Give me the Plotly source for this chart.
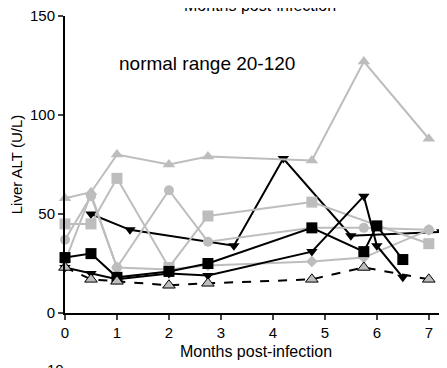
import plotly.graph_objects as go

# ---- data ----
gray_tri_x = [0, 0.5, 1, 2, 2.75, 4.75, 5.75, 7]
gray_tri_y = [58, 61, 80, 75, 79, 77, 127, 88]

gray_sq_x = [0, 0.5, 1, 2, 2.75, 4.75, 7]
gray_sq_y = [45, 45, 68, 23, 49, 56, 35]

gray_circ_x = [0, 0.5, 1, 2, 2.75, 4.75, 5.75, 7]
gray_circ_y = [37, 59, 23, 62, 36, 43, 43, 42]

gray_dia_x = [0, 0.5, 1, 2, 2.75, 4.75, 5.75, 7]
gray_dia_y = [26, 60, 23, 22, 24, 26, 28, 42]

black_sq_x = [0, 0.5, 1, 2, 2.75, 4.75, 5.75, 6, 6.5]
black_sq_y = [28, 30, 18, 21, 25, 43, 31, 44, 27]

black_invB_x = [0, 0.5, 1, 2, 2.75, 4.75, 5.75, 6, 6.5]
black_invB_y = [23, 20, 17, 20, 19, 31, 59, 34, 18]

black_invC_x = [0.5, 1.25, 3.25, 4.2, 5.5, 7.25]
black_invC_y = [50, 42, 34, 78, 39, 41]

dashed_x = [0, 0.5, 1, 2, 2.75, 4.75, 5.75, 7]
dashed_y = [23, 17, 16, 14, 15, 17, 23, 17]

x_ticks = [0, 1, 2, 3, 4, 5, 6, 7]
y_ticks = [0, 50, 100, 150]

GRAY = "#bdbdbd"
BLACK = "#000000"

fig = go.Figure()

def add(x, y, color, symbol, size=10, dash="solid", line_color=None, mline=None):
    fig.add_trace(go.Scatter(
        x=x, y=y, mode="lines+markers", cliponaxis=False,
        line=dict(color=line_color or color, width=2, dash=dash),
        marker=dict(color=color, symbol=symbol, size=size,
                    line=dict(color=mline or color, width=1 if mline else 0)),
        showlegend=False))

add(black_invC_x, black_invC_y, BLACK, "triangle-down", 10)
add(gray_tri_x, gray_tri_y, GRAY, "triangle-up", 11)
add(gray_sq_x, gray_sq_y, GRAY, "square", 11)
add(gray_circ_x, gray_circ_y, GRAY, "circle", 10)
add(gray_dia_x, gray_dia_y, GRAY, "diamond", 9)
add(black_invB_x, black_invB_y, BLACK, "triangle-down", 10)
add(black_sq_x, black_sq_y, BLACK, "square", 11)
add(dashed_x, dashed_y, GRAY, "triangle-up", 11, dash="dash", line_color=BLACK, mline=BLACK)

FONT = "Liberation Sans, Arial, sans-serif"

# page has an 8px body margin, so the figure is drawn offset by (8, 8)
W, H = 439, 360
L, R, T, B = 57, 0, 8, 55
plot_w = W - L - R
plot_h = H - T - B

fig.update_layout(
    width=W, height=H,
    margin=dict(l=L, r=R, t=T, b=B),
    plot_bgcolor="white", paper_bgcolor="white",
    font=dict(family=FONT, size=15, color="black"),
    xaxis=dict(range=[0, 7.35], tickvals=x_ticks, ticks="outside", ticklen=5,
               tickwidth=1.5, showline=True, linecolor="black", linewidth=2,
               showgrid=False, zeroline=False, automargin=False,
               ticklabeloverflow="allow",
               tickfont=dict(size=15),
               title=dict(text="Months post-infection", font=dict(size=16), standoff=6)),
    yaxis=dict(range=[0, 150], tickvals=y_ticks, ticks="outside", ticklen=5,
               tickwidth=1.5, showline=True, linecolor="black", linewidth=2,
               showgrid=False, zeroline=False, automargin=False,
               ticklabeloverflow="allow",
               tickfont=dict(size=15),
               title=dict(text="Liver ALT (U/L)", font=dict(size=15), standoff=8)),
    annotations=[
        dict(text="normal range 20-120", x=1.0, y=126, xref="x", yref="y",
             xanchor="left", yanchor="middle", showarrow=False,
             font=dict(size=19)),
        dict(text="Months post-infection", xref="paper", yref="paper",
             x=(252 - L) / plot_w, y=1 + (T + 3) / plot_h,
             xanchor="center", yanchor="middle", showarrow=False,
             font=dict(size=16)),
        dict(text="10", xref="paper", yref="paper",
             x=(47 - L) / plot_w, y=-(351 - (H - B)) / plot_h,
             xanchor="center", yanchor="top", showarrow=False,
             font=dict(size=15)),
    ],
)

fig.write_html("out.html")
